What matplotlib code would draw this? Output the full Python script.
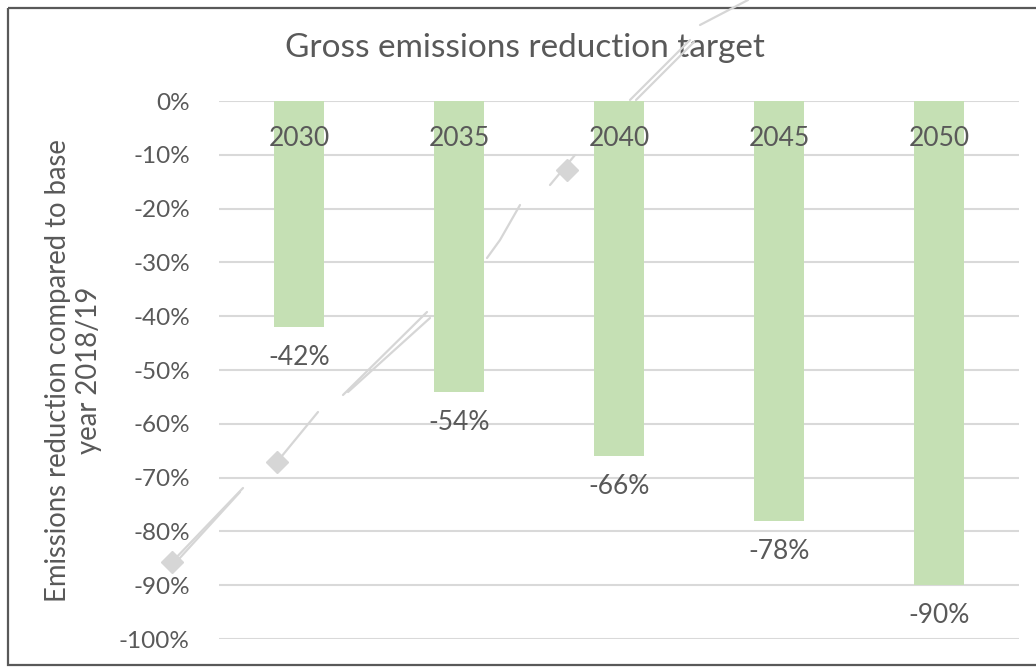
import matplotlib.pyplot as plt
from matplotlib.patches import Rectangle
from matplotlib.ticker import FuncFormatter

# target years and reduction versus 2018/19 baseline
years = ['2030', '2035', '2040', '2045', '2050']
reduction = [-0.42, -0.54, -0.66, -0.78, -0.90]
y_ticks = [0, -0.1, -0.2, -0.3, -0.4, -0.5, -0.6, -0.7, -0.8, -0.9, -1.0]

bar_color = '#c5e0b4'
text_color = '#595959'
grid_color = '#d9d9d9'

plt.rcParams['font.family'] = ['Lato', 'DejaVu Sans']

fig = plt.figure(figsize=(10.36, 6.68), dpi=100)
ax = fig.add_axes([0.2114, 0.0434, 0.7722, 0.8054])

x = range(len(years))
ax.bar(x, reduction, width=0.31, color=bar_color, zorder=2)

ax.set_xlim(-0.5, len(years) - 0.5)
ax.set_ylim(-1.0, 0)
ax.set_yticks(y_ticks)
ax.yaxis.set_major_formatter(FuncFormatter(lambda v, p: '{:.0f}%'.format(v * 100)))
ax.tick_params(axis='y', length=0, pad=21, labelsize=17.5, labelcolor=text_color)
ax.set_xticks([])
ax.grid(axis='y', color=grid_color, linewidth=1.5, zorder=0)
for s in ax.spines.values():
    s.set_visible(False)

# year labels sit just under the zero line, values under each bar
for i, (yr, val) in enumerate(zip(years, reduction)):
    ax.text(i, -0.07, yr, ha='center', va='center', fontsize=19, color=text_color, zorder=3)
    ax.annotate('{:.0f}%'.format(val * 100), (i, val), xytext=(0, -22),
                textcoords='offset points', ha='center', va='center',
                fontsize=19, color=text_color)

fig.text(0.507, 0.928, 'Gross emissions reduction target', ha='center', va='center',
         fontsize=24, color=text_color)
fig.text(0.071, 0.445, 'Emissions reduction compared to base\nyear 2018/19', rotation=90,
         ha='center', va='center', multialignment='center', fontsize=19.8,
         color=text_color, linespacing=1.2)

# overlay in pixel coordinates for the frame and the faint diagonal doodle
ov = fig.add_axes([0, 0, 1, 1], zorder=5)
ov.set_xlim(0, 1036)
ov.set_ylim(668, 0)
ov.axis('off')
ov.patch.set_alpha(0)
ov.add_patch(Rectangle((8, 8), 1040, 657, fill=False, edgecolor='#595959', linewidth=1.6))

doodle = '#d6d6d6'
strokes = [
    ((172, 243), (562, 488)),
    ((178, 240), (560, 492)),
    ((277, 318), (462, 412)),
    ((343, 427), (395, 312)),
    ((348, 430), (392, 318)),
    ((487, 500, 520), (258, 240, 205)),
    ((550, 575), (185, 155)),
    ((630, 690), (100, 40)),
    ((636, 694), (100, 42)),
    ((700, 748), (25, 0)),
]
for xs, ys in strokes:
    ov.plot(xs, ys, color=doodle, linewidth=1.6, solid_capstyle='round')
ov.plot([172, 277, 567], [562, 462, 170], linestyle='none', marker='D',
        markersize=11, color=doodle)

fig.savefig('out.png', dpi=100, facecolor='white')
